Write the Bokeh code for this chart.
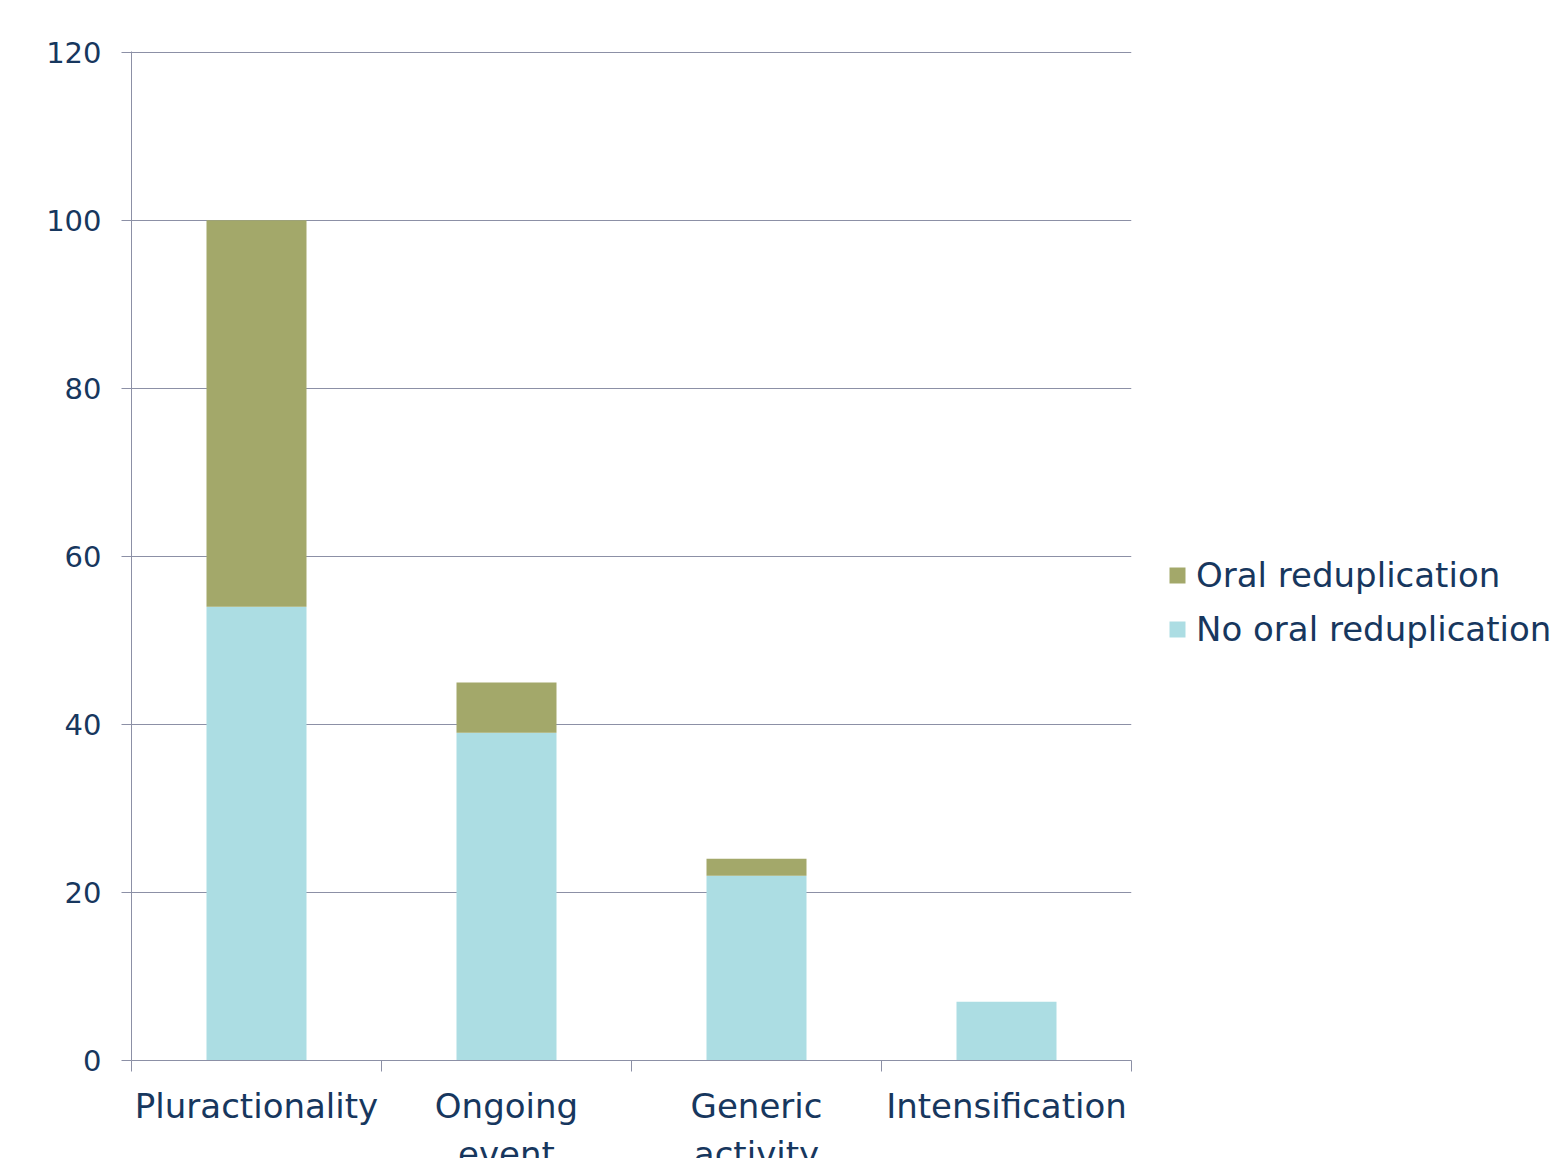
from bokeh.plotting import figure
from bokeh.models import ColumnDataSource, Range1d, FixedTicker, Legend, LegendItem
from bokeh.embed import file_html
from bokeh.resources import INLINE

categories = ["Pluractionality", "Ongoing\nevent", "Generic\nactivity", "Intensification"]
no_oral = [54, 39, 22, 7]
oral = [46, 6, 2, 0]
y_ticks = [0, 20, 40, 60, 80, 100, 120]
series_names = ["Oral reduplication", "No oral reduplication"]

TEXT = "#17375E"
GRID = "#8C90A6"
BLUE = "#ACDDE3"
OLIVE = "#A3A86A"
FONT = "DejaVu Sans"

x = [i + 0.5 for i in range(len(categories))]
source = ColumnDataSource(dict(x=x, no_oral=no_oral, oral=oral))

p = figure(frame_width=1000, frame_height=1009,
           min_border_left=131, min_border_right=424, min_border_top=51, min_border_bottom=98,
           x_range=Range1d(0, len(categories)), y_range=Range1d(0, 120.1),
           output_backend="svg", toolbar_location=None, outline_line_color=None,
           background_fill_color="white", border_fill_color="white")

rs = p.vbar_stack(["no_oral", "oral"], x="x", width=0.4, color=[BLUE, OLIVE],
                  source=source, line_color=None)

# x axis: labels at category centres, ticks at category boundaries
xa = p.xaxis[0]
xa.ticker = FixedTicker(ticks=x, minor_ticks=list(range(len(categories) + 1)))
xa.major_label_overrides = {xi: c for xi, c in zip(x, categories)}
xa.major_tick_out = 0
xa.major_tick_in = 0
xa.minor_tick_out = 11
xa.minor_tick_in = 0
xa.minor_tick_line_color = GRID
xa.axis_line_color = GRID
xa.major_label_standoff = 14
xa.major_label_text_font = FONT
xa.major_label_text_font_size = "34px"
xa.major_label_text_color = TEXT

ya = p.yaxis[0]
ya.ticker = FixedTicker(ticks=y_ticks, minor_ticks=[])
ya.major_tick_out = 10
ya.major_tick_in = 0
ya.major_tick_line_color = GRID
ya.axis_line_color = GRID
ya.major_label_standoff = 20
ya.major_label_text_font = FONT
ya.major_label_text_font_size = "29px"
ya.major_label_text_color = TEXT

p.xgrid.visible = False
p.ygrid.ticker = FixedTicker(ticks=y_ticks, minor_ticks=[])
p.ygrid.grid_line_color = GRID
p.ygrid.grid_line_width = 1

legend = Legend(items=[LegendItem(label=series_names[0], renderers=[rs[1]]),
                       LegendItem(label=series_names[1], renderers=[rs[0]])],
                location=(36, 411), padding=0, margin=0, spacing=14,
                glyph_width=20, glyph_height=20, label_standoff=9,
                label_text_font=FONT, label_text_font_size="34px", label_text_color=TEXT,
                border_line_color=None, background_fill_alpha=0)
p.add_layout(legend, "right")

open("out.html", "w").write(file_html(p, INLINE))
